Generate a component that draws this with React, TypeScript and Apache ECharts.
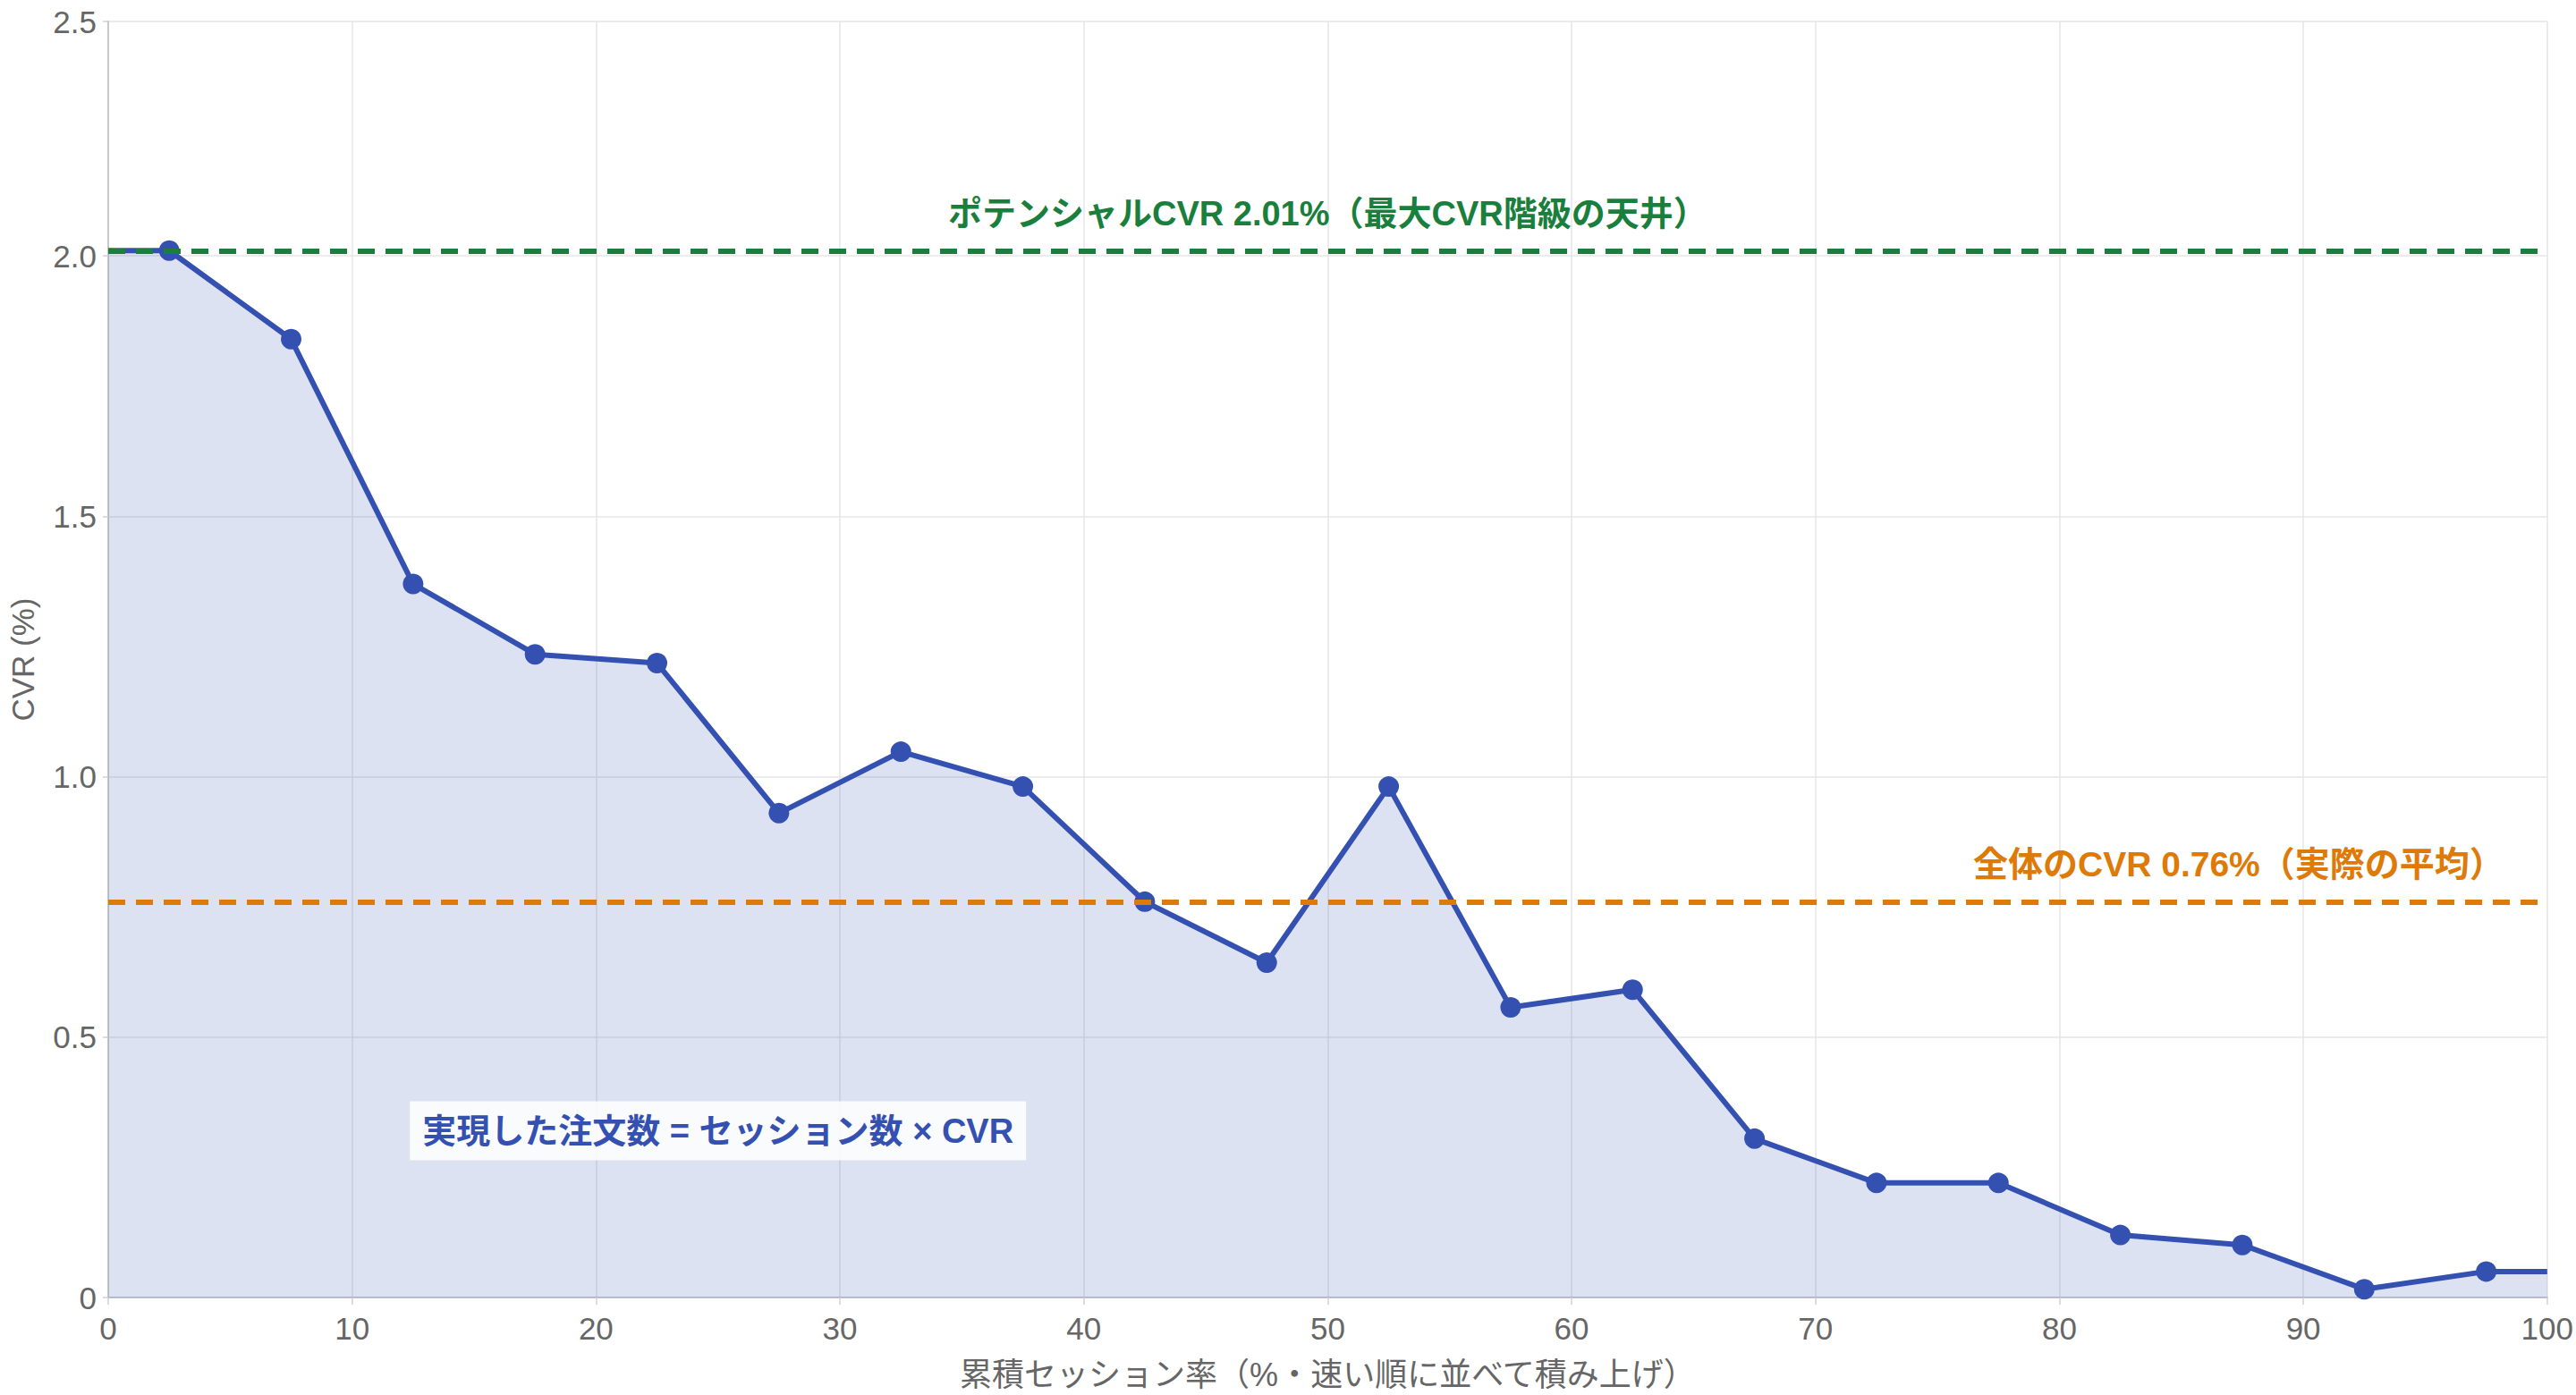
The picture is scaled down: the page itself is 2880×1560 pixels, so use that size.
import React, { useEffect, useRef } from "react";
import * as echarts from "echarts";

// cumulative session share (%) at the middle of each 5% bin
const sessionShare = [
  2.5, 7.5, 12.5, 17.5, 22.5, 27.5, 32.5, 37.5, 42.5, 47.5,
  52.5, 57.5, 62.5, 67.5, 72.5, 77.5, 82.5, 87.5, 92.5, 97.5,
];
// CVR (%) per bin
const cvrValues = [
  2.01, 1.84, 1.37, 1.235, 1.218, 0.93, 1.048, 0.981, 0.76, 0.643,
  0.981, 0.557, 0.591, 0.305, 0.22, 0.22, 0.12, 0.101, 0.016, 0.05,
];
const axisEnds = [0, 100];
const potentialCvr = 2.01;
const overallCvr = 0.76;

const potentialLabel = "ポテンシャルCVR 2.01%（最大CVR階級の天井）";
const overallLabel = "全体のCVR 0.76%（実際の平均）";
const areaLabel = "実現した注文数 = セッション数 × CVR";
const areaLabelAt = [25, 0.32];

const xName = "累積セッション率（%・速い順に並べて積み上げ）";
const yName = "CVR (%)";

const FONT = '"Liberation Sans", "Noto Sans CJK JP", sans-serif';
const BLUE = "#3451b2";
const GREEN = "#1a7f3c";
const ORANGE = "#de7a08";

function CvrChart() {
  const chartRef = useRef<HTMLDivElement>(null);

  useEffect(() => {
    const myChart = echarts.init(chartRef.current!, null, { renderer: "svg" });

    const points: any[] = sessionShare.map((x, i) => [x, cvrValues[i]]);
    // extend the line flat to both edges, no marker there
    const data: any[] = [
      { value: [axisEnds[0], cvrValues[0]], symbol: "none" },
      ...points,
      { value: [axisEnds[1], cvrValues[cvrValues.length - 1]], symbol: "none" },
    ];

    const option: echarts.EChartsOption = {
      animation: false,
      textStyle: { fontFamily: FONT },
      grid: { left: 114, right: 32, top: 24, bottom: 109 },
      xAxis: {
        type: "value",
        min: axisEnds[0],
        max: axisEnds[1],
        interval: 10,
        name: xName,
        nameLocation: "middle",
        nameGap: 68,
        nameTextStyle: { fontSize: 36, color: "#666", fontFamily: FONT },
        axisLine: { show: true, lineStyle: { color: "#c3c6cf", width: 2 } },
        axisTick: { show: true, length: 8, lineStyle: { color: "#d0d0d0", width: 1.5 } },
        axisLabel: { fontSize: 35, color: "#666", margin: 17, fontFamily: FONT },
        splitLine: { show: true, lineStyle: { color: "#e6e6e6", width: 1.5 } },
      },
      yAxis: {
        type: "value",
        min: 0,
        max: 2.45,
        interval: 0.5,
        name: yName,
        nameLocation: "middle",
        nameGap: 78,
        nameTextStyle: { fontSize: 35, color: "#666", fontFamily: FONT },
        axisLine: { show: true, lineStyle: { color: "#c8c8c8", width: 2 } },
        axisTick: { show: true, length: 6, lineStyle: { color: "#d0d0d0", width: 1.5 } },
        axisLabel: {
          fontSize: 35,
          color: "#666",
          margin: 13,
          fontFamily: FONT,
          formatter: (v: number) => (v === 0 ? "0" : v.toFixed(1)),
        },
        splitLine: { show: true, lineStyle: { color: "#e6e6e6", width: 1.5 } },
      },
      series: [
        {
          type: "line",
          data,
          symbol: "circle",
          symbolSize: 23,
          lineStyle: { color: BLUE, width: 6 },
          itemStyle: { color: BLUE },
          areaStyle: { color: BLUE, opacity: 0.17 },
          z: 3,
          markLine: {
            silent: true,
            symbol: ["none", "none"],
            z: 4,
            data: [
              {
                yAxis: potentialCvr,
                lineStyle: { color: GREEN, width: 6, type: [19, 12] },
                label: {
                  show: true,
                  position: "insideMiddleTop",
                  distance: [0, 22],
                  formatter: potentialLabel,
                  color: GREEN,
                  fontSize: 38,
                  fontWeight: "bold",
                  fontFamily: FONT,
                },
              },
              {
                yAxis: overallCvr,
                lineStyle: { color: ORANGE, width: 6, type: [19, 12] },
                label: {
                  show: true,
                  position: "insideEndTop",
                  distance: [48, 22],
                  formatter: overallLabel,
                  color: ORANGE,
                  fontSize: 39,
                  fontWeight: "bold",
                  fontFamily: FONT,
                },
              },
            ] as any,
          },
          markPoint: {
            silent: true,
            symbol: "circle",
            symbolSize: 0,
            data: [
              {
                coord: areaLabelAt,
                label: {
                  show: true,
                  position: "inside",
                  formatter: areaLabel,
                  color: BLUE,
                  fontSize: 38,
                  fontWeight: "bold",
                  fontFamily: FONT,
                  backgroundColor: "rgba(255,255,255,0.85)",
                  padding: [15, 14, 13, 14],
                },
              },
            ],
          },
        },
      ],
    };

    myChart.setOption(option);

    return () => {
      myChart.dispose();
    };
  }, []);

  return (
    <div
      ref={chartRef}
      style={{ position: "fixed", left: 0, top: 0, width: 2880, height: 1560, background: "#fff" }}
    />
  );
}

export default function App() {
  return <CvrChart />;
}
